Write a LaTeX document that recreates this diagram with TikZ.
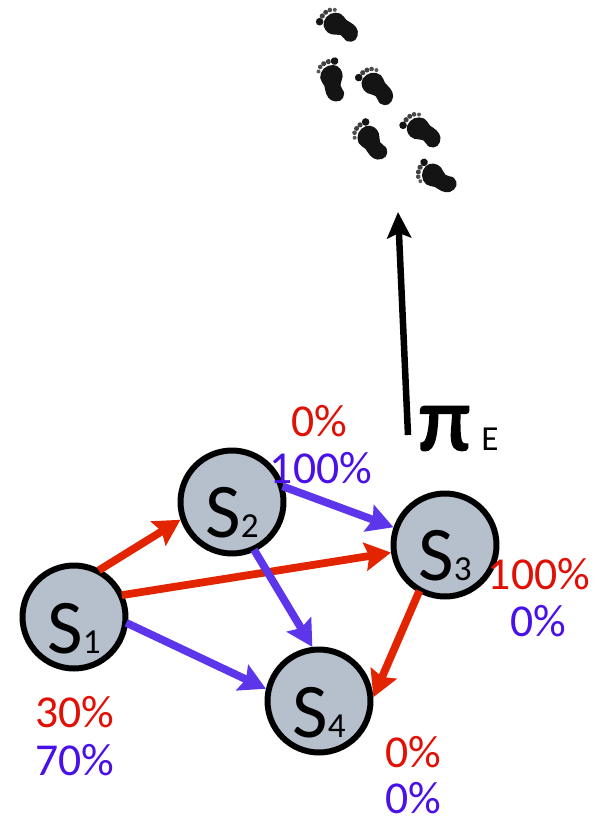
\documentclass[tikz,border=0pt]{standalone}
\usepackage{fontspec}
\setmainfont{Carlito}
\newfontfamily\pifont[FakeBold=2.5]{Carlito}
\usetikzlibrary{arrows.meta}
\definecolor{nodegray}{HTML}{B6BFCC}
\definecolor{redtext}{HTML}{E01005}
\definecolor{bluetext}{HTML}{4A10E8}
\definecolor{redline}{HTML}{E32400}
\definecolor{blueline}{HTML}{5D35EA}
\newcommand{\statename}[1]{\fontsize{44}{44}\selectfont S{\fontsize{20}{20}\selectfont #1}}
\tikzset{
  state/.style={circle,draw=black,line width=.12cm,fill=nodegray,minimum size=2.06cm,inner sep=0pt,text height=1.44cm,text depth=0pt},
  pct/.style={font=\fontsize{26}{26}\selectfont,inner sep=0pt},
  edge/.style={line width=.155cm,shorten <=-.04cm,-{Stealth[length=.52cm,width=.56cm,inset=.08cm]}},
  footprint/.pic={
    \fill[black!92] plot[smooth cycle,tension=.7] coordinates {(-12,-9) (-7,-15.5) (3,-16) (10,-9) (9.5,0) (11,8) (9,16) (1,20) (-5.5,15) (-5.5,6) (-11,-1)};
    \fill[black!92] (-10,-18.5) circle (3.8);
    \fill[black!75] (-4,-20.5) circle (2.6);
    \fill[black!75] (1,-20.5) circle (2.5);
    \fill[black!70] (5.5,-19) circle (2.3);
    \fill[black!65] (9,-15.5) circle (2);
  }
}
\begin{document}
\begin{tikzpicture}[x=.02cm,y=-.02cm]
\useasboundingbox (0,0) rectangle (604,818);

\pic[rotate=47] at (340,27) {footprint};
\pic[rotate=24,xscale=-1] at (333,82) {footprint};
\pic[rotate=32] at (377,88) {footprint};
\pic[rotate=46,xscale=-1] at (372,142) {footprint};
\pic[rotate=43] at (423,132) {footprint};
\pic[rotate=70,xscale=-1] at (438,178) {footprint};

\node[state] (s1) at (74,617) {\statename{1}};
\node[state] (s2) at (232,502) {\statename{2}};
\node[state] (s3) at (445,545) {\statename{3}};
\node[state] (s4) at (319,701) {\statename{4}};

\draw[edge,redline] (s1.61) -- (s2.199);
\draw[edge,redline] (s1.24) -- (s3.188);
\draw[edge,redline] (s3.241) -- (s4.4);
\draw[edge,blueline] (s1.-7) -- (s4.167);
\draw[edge,blueline] (s2.16) -- (s3.161);
\draw[edge,blueline] (s2.-65) -- (s4.97);

\node[pct,redtext] (s1a) at (75,712) {30\%};
\node[pct,bluetext] (s1b) at (75,760) {70\%};
\node[pct,redtext] (s2a) at (319,421) {0\%};
\node[pct,bluetext] (s2b) at (321,468) {100\%};
\node[pct,redtext] (s3a) at (539,574) {100\%};
\node[pct,bluetext] (s3b) at (538,621) {0\%};
\node[pct,redtext] (s4a) at (413,752) {0\%};
\node[pct,bluetext] (s4b) at (413,798) {0\%};

% policy arrow up to the footprints
\coordinate (start) at (408,435);
\coordinate (feet) at (398,212);
\draw[line width=.13cm,-{Stealth[length=.52cm,width=.48cm,inset=.1cm]}] (start) -- (feet);
\node[anchor=base west,inner sep=0pt] (pi) at (419,450) {\pifont\fontsize{52}{52}\selectfont π};
\node[anchor=base west,inner sep=0pt] (pilabel) at (481,450) {\fontsize{20}{20}\selectfont E};
\end{tikzpicture}
\end{document}
